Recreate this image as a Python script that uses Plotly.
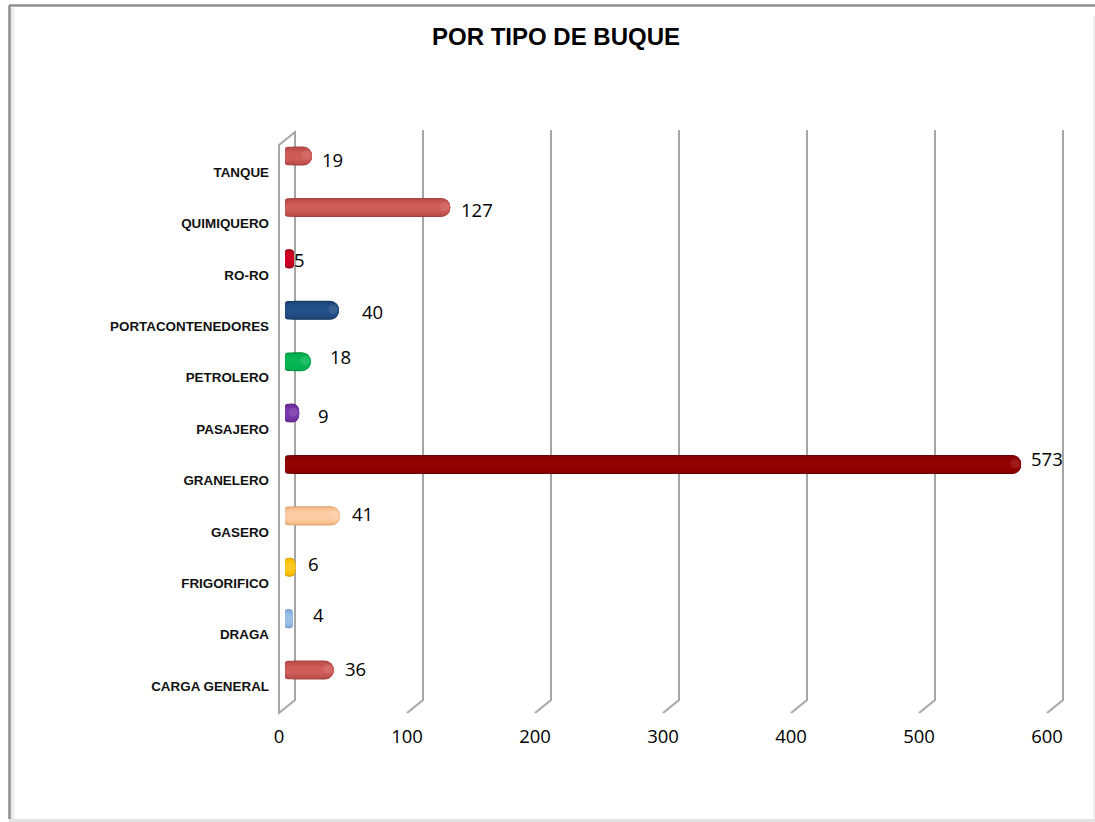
import plotly.graph_objects as go

categories = ["CARGA GENERAL", "DRAGA", "FRIGORIFICO", "GASERO", "GRANELERO", "PASAJERO",
              "PETROLERO", "PORTACONTENEDORES", "RO-RO", "QUIMIQUERO", "TANQUE"]
values = [36, 4, 6, 41, 573, 9, 18, 40, 5, 127, 19]
colors = ["#C0504D", "#8DB4E2", "#FFC000", "#FAC090", "#8B0000", "#7030A0",
          "#00B050", "#1F497D", "#C00020", "#C0504D", "#C0504D"]
dark_colors = ["#9A3F3C", "#6A8FBC", "#C89600", "#D9A070", "#650000", "#562580",
               "#008A3E", "#153660", "#950018", "#9A3F3C", "#9A3F3C"]
light_colors = ["#CF5C58", "#9CC0E8", "#FFC820", "#FCCCA4", "#920202", "#7A38AC",
                "#08B656", "#235088", "#D00024", "#CF5C58", "#CF5C58"]
x_ticks = [0, 100, 200, 300, 400, 500, 600]
label_dx = [22, 26, 18, 22, 26, 24, 30, 34, 6, 27, 21]
label_dy = [-2, -4, -4, -2, -6, 2, -5, 1, 1, 2, 3]

PX_PER_UNIT = 1.28
X0_PX = 279
L, R, T, B = 270, 1065, 130, 716
W, H = 1095, 822
BAR_START = 4.7
BAR_TIP = 6.7
BAR_SHIFT = 0.31
DEPTH = 16 / PX_PER_UNIT
GRID = "#A6A6A6"

ypos = list(range(len(categories)))
ybar = [i + BAR_SHIFT for i in ypos]
tips = [v + BAR_TIP for v in values]
lengths = [t - BAR_START for t in tips]


def px(x):
    return (x - L) / (R - L)


def py(y):
    return (B - y) / (B - T)


def mix(a, b, t):
    ca = [int(a[i:i + 2], 16) for i in (1, 3, 5)]
    cb = [int(b[i:i + 2], 16) for i in (1, 3, 5)]
    return "#" + "".join(f"{round(p + (q - p) * t):02X}" for p, q in zip(ca, cb))


LAYERS = [(0.37, 9.5, dark_colors, None),
          (0.35, 9, dark_colors, colors),
          (0.31, 8, colors, None),
          (0.23, 6, colors, light_colors),
          (0.15, 4, light_colors, None)]

fig = go.Figure()
for width, radius, c1, c2 in LAYERS:
    cols = c1 if c2 is None else [mix(a, b, 0.5) for a, b in zip(c1, c2)]
    fig.add_trace(go.Bar(y=ybar, x=lengths, base=BAR_START, orientation="h", width=width,
                         marker=dict(color=cols, line=dict(width=0), cornerradius=radius),
                         hoverinfo="skip", showlegend=False))
    # nearly flat left end of each bar
    stubs = [min(n * 0.6, 7) for n in lengths]
    fig.add_trace(go.Bar(y=ybar, x=stubs, base=BAR_START, orientation="h", width=width - 0.01,
                         marker=dict(color=cols, line=dict(width=0), cornerradius=3),
                         hoverinfo="skip", showlegend=False))

hl = [(t - 4.5, y + 0.02) for t, y, v in zip(tips, ybar, values) if v >= 9]
fig.add_trace(go.Scatter(x=[p[0] for p in hl], y=[p[1] for p in hl], mode="markers",
                         marker=dict(size=9, color="rgba(255,255,255,0.10)"),
                         hoverinfo="skip", showlegend=False))

shapes = []
for t in x_ticks:
    if t == 0:
        path = (f"M {t} {py(713)} L {t} {py(145)} L {t + DEPTH} {py(132)} "
                f"L {t + DEPTH} {py(700)} Z")
    else:
        path = (f"M {t} {py(713)} L {t + DEPTH} {py(700)} L {t + DEPTH} {py(130)}")
    shapes.append(dict(type="path", xref="x", yref="paper", path=path, layer="below",
                       line=dict(color=GRID, width=2)))


def frame(x0, y0, x1, y1, color, width):
    shapes.append(dict(type="line", xref="paper", yref="paper", x0=px(x0), x1=px(x1),
                       y0=py(y0), y1=py(y1), line=dict(color=color, width=width),
                       layer="below"))


for i, c in enumerate(["#E8E8E8", "#F4F4F4"]):
    frame(12 + i * 2, 8, 12 + i * 2, 819, c, 2)
frame(9.5, 5.5, 9.5, 819, "#8E8E8E", 2.5)
frame(9, 5.5, 1095, 5.5, "#8E8E8E", 2.5)
frame(1094, 16, 1094, 820, "#EFEFEF", 2)
frame(9, 820.5, 1095, 820.5, "#E4E4E4", 3)

annotations = [
    dict(x=t, y=y, text=str(v), showarrow=False, xshift=dx, yshift=-dy,
         font=dict(family="Open Sans", size=18.5, color="#000000"))
    for t, y, v, dx, dy in zip(tips, ybar, values, label_dx, label_dy)
]

fig.update_layout(
    width=W, height=H,
    margin=dict(l=L, r=W - R, t=T, b=H - B, pad=0),
    paper_bgcolor="white", plot_bgcolor="white",
    barmode="overlay",
    title=dict(text="<b>POR TIPO DE BUQUE</b>", x=556 / W, xanchor="center",
               xref="container", y=1 - 37 / H, yanchor="middle", yref="container",
               font=dict(family="Liberation Sans", size=24, color="#000000")),
    xaxis=dict(range=[(L - X0_PX) / PX_PER_UNIT, (R - X0_PX) / PX_PER_UNIT],
               tickmode="array", tickvals=x_ticks, ticktext=[str(t) for t in x_ticks],
               showgrid=False, zeroline=False, showline=False, ticks="outside", ticklen=4,
               tickcolor="rgba(0,0,0,0)",
               tickfont=dict(family="Open Sans", size=18.5, color="#000000")),
    yaxis=dict(range=[-0.525 - 3 / 51.4, 10 + 42 / 51.4], tickmode="array", tickvals=ypos,
               ticktext=categories, showgrid=False, zeroline=False, showline=False,
               ticks="",
               tickfont=dict(family="Liberation Sans", size=13.4, color="#111111", weight="bold")),
    shapes=shapes, annotations=annotations,
)

fig.write_html("out.html", config={"displayModeBar": False},
               post_script="document.body.style.margin='0';document.documentElement.style.overflow='hidden';")
